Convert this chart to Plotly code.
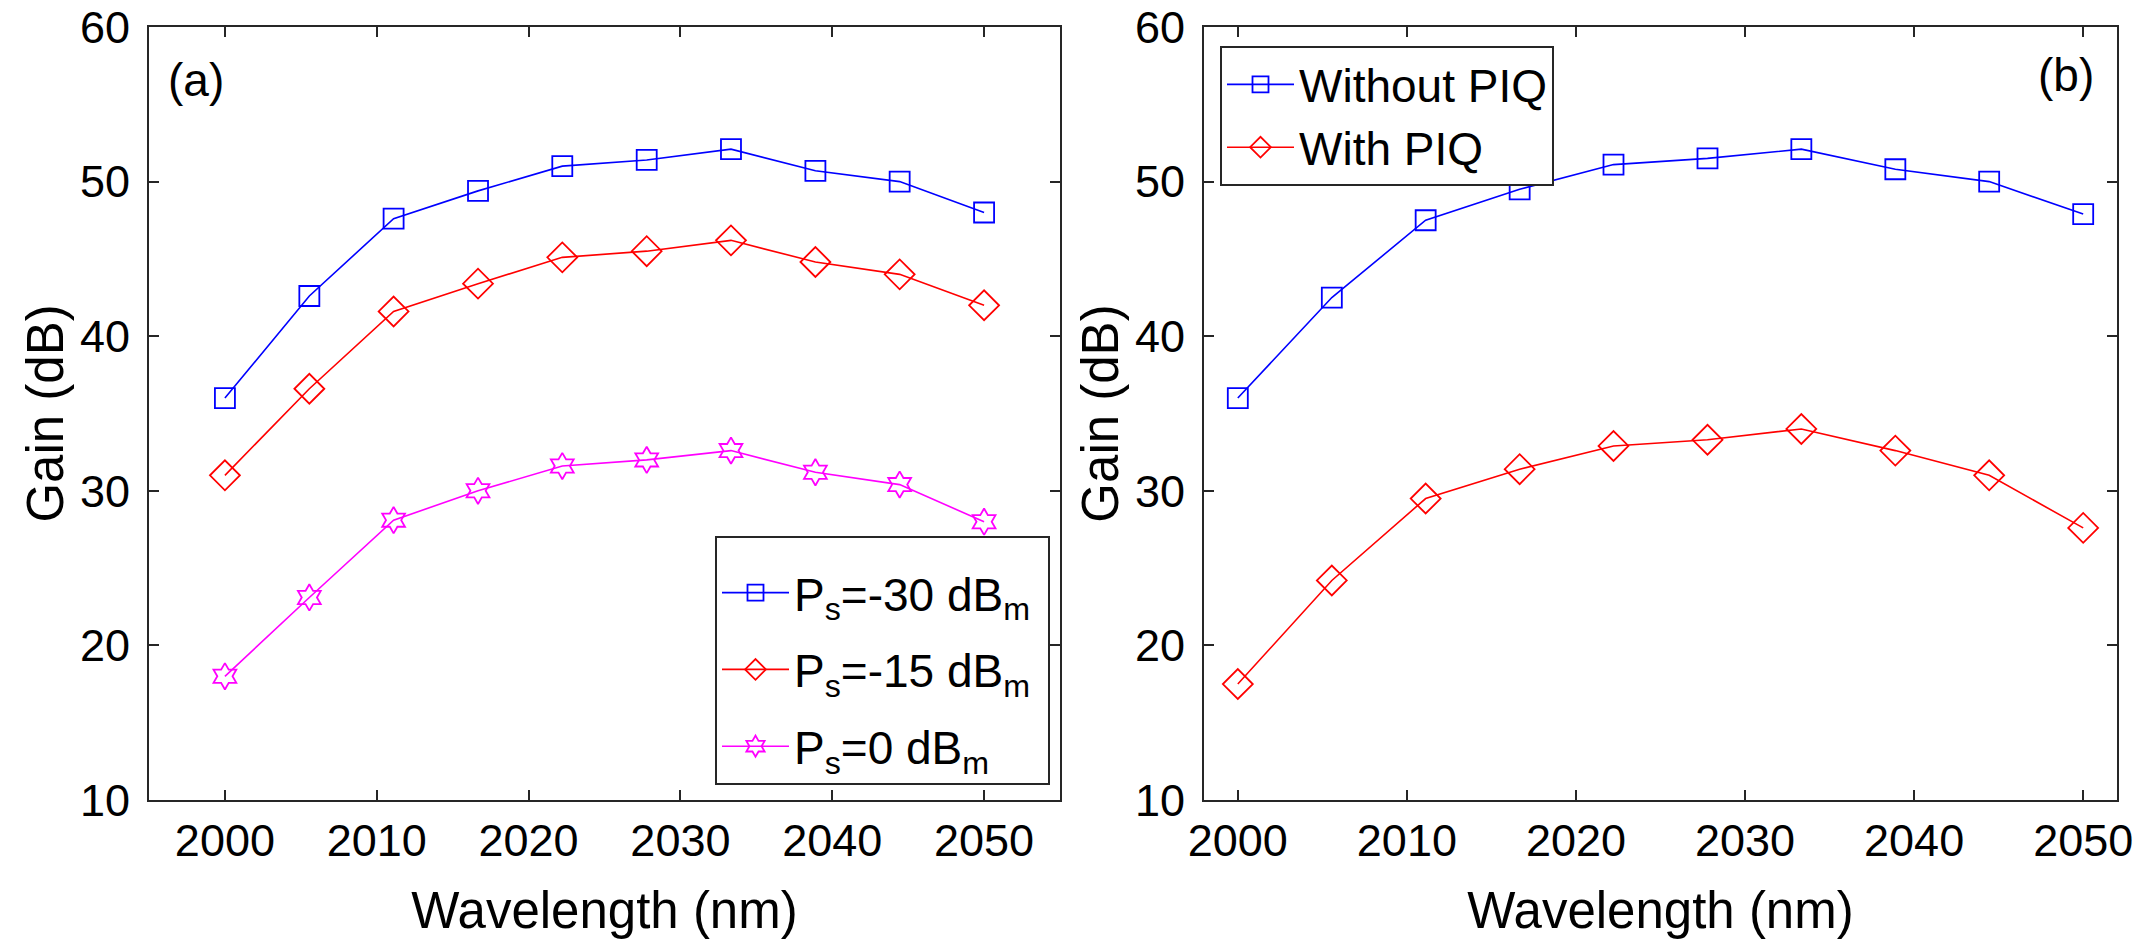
import plotly.graph_objects as go

wavelength = [2000, 2005.56, 2011.11, 2016.67, 2022.22, 2027.78, 2033.33, 2038.89, 2044.44, 2050]

gain_a_m30 = [36.0, 42.6, 47.6, 49.4, 51.0, 51.4, 52.1, 50.7, 50.0, 48.0]
gain_a_m15 = [31.0, 36.6, 41.6, 43.4, 45.1, 45.5, 46.2, 44.8, 44.0, 42.0]
gain_a_0 = [18.0, 23.1, 28.1, 30.0, 31.6, 32.0, 32.6, 31.2, 30.4, 28.0]

gain_b_without = [36.0, 42.5, 47.5, 49.5, 51.1, 51.5, 52.1, 50.8, 50.0, 47.9]
gain_b_with = [17.5, 24.2, 29.5, 31.4, 32.9, 33.3, 34.0, 32.6, 31.0, 27.6]

x_ticks = [2000, 2010, 2020, 2030, 2040, 2050]
y_ticks = [10, 20, 30, 40, 50, 60]

names_a = ["P<sub>s</sub>=-30 dB<sub>m</sub>\u00a0", "P<sub>s</sub>=-15 dB<sub>m</sub>\u00a0", "P<sub>s</sub>=0 dB<sub>m</sub>\u00a0"]
names_b = ["Without PIQ", "With PIQ"]

FONT = "Liberation Sans, Arial, Helvetica, sans-serif"
AX = "#262626"

# plot area in pixels
L, R, T, B = 149, 2117, 27, 800
W, H = R - L, B - T


def px(xp):
    return (xp - L) / W


def py(yp):
    return (B - yp) / H


fig = go.Figure()


def add(x, y, name, color, symbol, size, xa, ya, legend, group):
    fig.add_trace(go.Scatter(
        x=x, y=y, name=name, mode="lines+markers",
        line=dict(color=color, width=1.6),
        marker=dict(symbol=symbol, size=size, color=color,
                    line=dict(color=color, width=1.8)),
        xaxis=xa, yaxis=ya, legend=legend, legendgroup=group,
    ))


add(wavelength, gain_a_m30, names_a[0], "#0000FF", "square-open", 20, "x", "y", "legend", "a1")
add(wavelength, gain_a_m15, names_a[1], "#FF0000", "diamond-open", 23, "x", "y", "legend", "a2")
add(wavelength, gain_a_0, names_a[2], "#FF00FF", "hexagram-open", 20, "x", "y", "legend", "a3")
add(wavelength, gain_b_without, names_b[0], "#0000FF", "square-open", 20, "x2", "y2", "legend2", "b1")
add(wavelength, gain_b_with, names_b[1], "#FF0000", "diamond-open", 23, "x2", "y2", "legend2", "b2")

axis_common = dict(
    showline=True, linecolor=AX, linewidth=2, mirror="ticks",
    ticks="inside", ticklen=10, tickwidth=2, tickcolor=AX,
    showgrid=False, zeroline=False, ticklabeloverflow="allow", automargin=False,
    tickfont=dict(family=FONT, size=45, color="black"),
    title_font=dict(family=FONT, size=51, color="black"),
)

fig.update_layout(
    width=2149, height=944,
    margin=dict(l=L, r=2149 - R, t=T, b=944 - B),
    paper_bgcolor="white", plot_bgcolor="white",
    font=dict(family=FONT, color="black"),
    xaxis=dict(domain=[0, px(1060)], range=[1995, 2055], tickvals=x_ticks,
               ticklabelstandoff=0, title=dict(text="Wavelength (nm)", standoff=27), **axis_common),
    yaxis=dict(domain=[0, 1], range=[10, 60], tickvals=y_ticks, anchor="x",
               ticklabelstandoff=8, title=dict(text="Gain (dB)", standoff=0), **axis_common),
    xaxis2=dict(domain=[px(1204), 1], range=[1998, 2052], tickvals=x_ticks, anchor="y2",
                ticklabelstandoff=0, title=dict(text="Wavelength (nm)", standoff=27), **axis_common),
    yaxis2=dict(domain=[0, 1], range=[10, 60], tickvals=y_ticks, anchor="x2",
                ticklabelstandoff=8, title=dict(text="Gain (dB)", standoff=0), **axis_common),
    legend=dict(x=px(1050), y=py(785), xref="paper", yref="paper",
                xanchor="right", yanchor="bottom",
                bordercolor=AX, borderwidth=2, bgcolor="white",
                font=dict(family=FONT, size=46, color="black"),
                title=dict(text="\u00a0", font=dict(family=FONT, size=14)),
                itemwidth=67, tracegroupgap=14),
    legend2=dict(x=px(1220), y=py(46), xref="paper", yref="paper",
                 xanchor="left", yanchor="top",
                 bordercolor=AX, borderwidth=2, bgcolor="white",
                 font=dict(family=FONT, size=46, color="black"),
                 itemwidth=67, tracegroupgap=0),
    showlegend=True,
    annotations=[
        dict(text="(a)", x=px(196), y=py(80), xref="paper", yref="paper",
             xanchor="center", yanchor="middle",
             showarrow=False, font=dict(family=FONT, size=46, color="black")),
        dict(text="(b)", x=px(2066), y=py(75), xref="paper", yref="paper",
             xanchor="center", yanchor="middle",
             showarrow=False, font=dict(family=FONT, size=46, color="black")),
    ],
)

fig.write_html("out.html")
